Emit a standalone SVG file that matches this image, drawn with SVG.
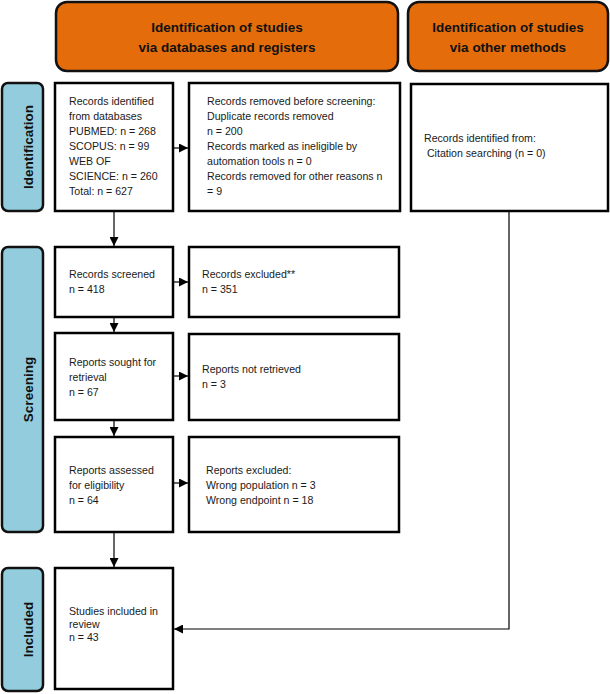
<svg xmlns="http://www.w3.org/2000/svg" width="610" height="694" viewBox="0 0 610 694">
<defs>
<marker id="ah" markerUnits="userSpaceOnUse" markerWidth="9" markerHeight="9" refX="9" refY="4.5" orient="auto">
<path d="M0,0 L9,4.5 L0,9 z" fill="#000"/>
</marker>
<style>
.hdr{fill:#E46C0A;stroke:#111;stroke-width:2.5}
.side{fill:#93CDDD;stroke:#111;stroke-width:2.5}
.box{fill:#fff;stroke:#000;stroke-width:2.5}
.ht{font-family:"Liberation Sans",Arial,sans-serif;font-weight:bold;font-size:13.5px;fill:#111;text-anchor:middle}
.st{font-family:"Liberation Sans",Arial,sans-serif;font-weight:bold;font-size:13.5px;fill:#111;text-anchor:middle}
.t{font-family:"Liberation Sans",Arial,sans-serif;font-size:10.6px;fill:#1a1a1a}
.c{fill:none;stroke:#000;stroke-width:1.2}
</style>
</defs>
<rect width="610" height="694" fill="#fff"/>

<g id="header-databases">
<rect class="hdr" x="56" y="2" width="342" height="69" rx="11"/>
<text class="ht" x="227" y="32">Identification of studies</text>
<text class="ht" x="227" y="52">via databases and registers</text>
</g>
<g id="header-other">
<rect class="hdr" x="408" y="2" width="200" height="69" rx="11"/>
<text class="ht" x="508" y="32">Identification of studies</text>
<text class="ht" x="508" y="52">via other methods</text>
</g>

<g id="label-identification">
<rect class="side" x="2" y="83" width="41" height="128" rx="6"/>
<text class="st" transform="translate(33,147) rotate(-90)">Identification</text>
</g>
<g id="label-screening">
<rect class="side" x="2" y="247" width="41" height="285" rx="6"/>
<text class="st" transform="translate(33,389.5) rotate(-90)">Screening</text>
</g>
<g id="label-included">
<rect class="side" x="2" y="568" width="41" height="123" rx="6"/>
<text class="st" transform="translate(33,629.5) rotate(-90)">Included</text>
</g>

<g id="records-identified">
<rect class="box" x="55" y="83" width="118" height="128"/>
<text class="t" x="69" y="105">Records identified</text>
<text class="t" x="69" y="120">from databases</text>
<text class="t" x="69" y="135">PUBMED: n = 268</text>
<text class="t" x="69" y="150">SCOPUS: n = 99</text>
<text class="t" x="69" y="165">WEB OF</text>
<text class="t" x="69" y="180">SCIENCE: n = 260</text>
<text class="t" x="69" y="195">Total: n = 627</text>
</g>
<g id="records-removed">
<rect class="box" x="189" y="83" width="211" height="128"/>
<text class="t" x="207" y="105">Records removed before screening:</text>
<text class="t" x="207" y="120">Duplicate records removed</text>
<text class="t" x="207" y="135">n = 200</text>
<text class="t" x="207" y="150">Records marked as ineligible by</text>
<text class="t" x="207" y="165">automation tools n = 0</text>
<text class="t" x="207" y="180">Records removed for other reasons n</text>
<text class="t" x="207" y="195">= 9</text>
</g>
<g id="records-other">
<rect class="box" x="411" y="84" width="197" height="127"/>
<text class="t" x="424" y="142">Records identified from:</text>
<text class="t" x="424" y="157" xml:space="preserve"> Citation searching (n = 0)</text>
</g>
<g id="records-screened">
<rect class="box" x="55" y="247" width="118" height="70"/>
<text class="t" x="69" y="278">Records screened</text>
<text class="t" x="69" y="293">n = 418</text>
</g>
<g id="records-excluded">
<rect class="box" x="189" y="247" width="210" height="70"/>
<text class="t" x="202" y="278">Records excluded**</text>
<text class="t" x="202" y="293">n = 351</text>
</g>
<g id="reports-sought">
<rect class="box" x="55" y="333" width="118" height="87"/>
<text class="t" x="69" y="366">Reports sought for</text>
<text class="t" x="69" y="381">retrieval</text>
<text class="t" x="69" y="396">n = 67</text>
</g>
<g id="reports-not-retrieved">
<rect class="box" x="189" y="334" width="210" height="86"/>
<text class="t" x="202" y="373">Reports not retrieved</text>
<text class="t" x="202" y="388">n = 3</text>
</g>
<g id="reports-assessed">
<rect class="box" x="55" y="437" width="118" height="95"/>
<text class="t" x="69" y="474">Reports assessed</text>
<text class="t" x="69" y="489">for eligibility</text>
<text class="t" x="69" y="504">n = 64</text>
</g>
<g id="reports-excluded">
<rect class="box" x="189" y="437" width="210" height="95"/>
<text class="t" x="206" y="474">Reports excluded:</text>
<text class="t" x="206" y="489">Wrong population n = 3</text>
<text class="t" x="206" y="504">Wrong endpoint n = 18</text>
</g>
<g id="studies-included">
<rect class="box" x="55" y="568" width="118" height="121"/>
<text class="t" x="69" y="615">Studies included in</text>
<text class="t" x="69" y="628">review</text>
<text class="t" x="69" y="641">n = 43</text>
</g>

<g id="connectors">
<line class="c" x1="114" y1="212" x2="114" y2="246" marker-end="url(#ah)"/>
<line class="c" x1="114" y1="318" x2="114" y2="332" marker-end="url(#ah)"/>
<line class="c" x1="114" y1="421" x2="114" y2="436" marker-end="url(#ah)"/>
<line class="c" x1="114" y1="533" x2="114" y2="567" marker-end="url(#ah)"/>
<line class="c" x1="174" y1="148" x2="188" y2="148" marker-end="url(#ah)"/>
<line class="c" x1="174" y1="282" x2="188" y2="282" marker-end="url(#ah)"/>
<line class="c" x1="174" y1="376" x2="188" y2="376" marker-end="url(#ah)"/>
<line class="c" x1="174" y1="483" x2="188" y2="483" marker-end="url(#ah)"/>
<polyline class="c" points="509,212 509,629 174,629" marker-end="url(#ah)"/>
</g>
</svg>
